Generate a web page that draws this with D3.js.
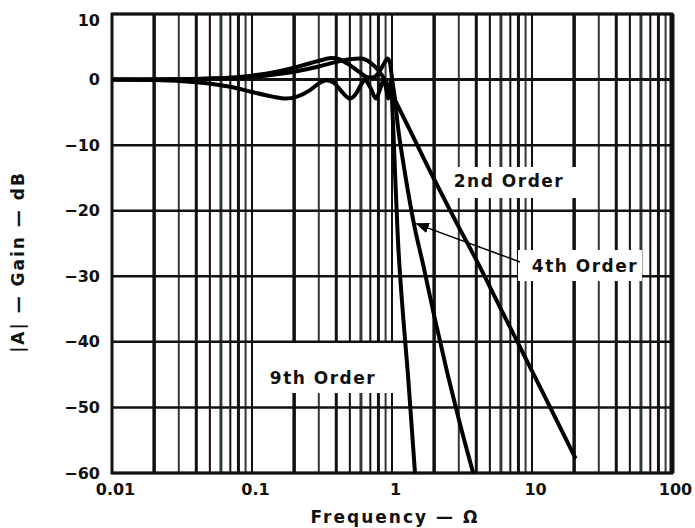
<!DOCTYPE html>
<html>
<head>
<meta charset="utf-8">
<script src="https://cdn.jsdelivr.net/npm/d3@7"></script>
<style>
    body { margin: 0; background: #fff; }
    svg text { font-family: "DejaVu Sans", "Liberation Sans", sans-serif; font-weight: bold; fill: #111; }
</style>
</head>
<body>
<svg id="chart" width="695" height="528"></svg>
<script>

/* Chebyshev-Tiefpass: Verstärkung über normierter Frequenz */

// Werte: [Frequenz, dB]
let order2 = [
    [0.01, 0], [0.03, 0.05], [0.06, 0.2], [0.1, 0.4], [0.15, 0.8], [0.2, 1.2],
    [0.3, 2.0], [0.4, 2.7], [0.5, 3.1], [0.6, 3.2], [0.7, 2.6], [0.8, 1.4],
    [0.9, -0.2], [1.0, -2.2], [1.2, -5.6], [1.5, -9.8], [2.0, -15.2], [2.4, -18.5],
    [3.0, -22.5], [4.0, -27.5], [6.0, -35.0], [9.0, -42.5], [13.0, -49.3], [20.5, -57.8]
];

let order4 = [
    [0.01, 0], [0.03, 0.05], [0.06, 0.2], [0.1, 0.6], [0.15, 1.2], [0.2, 1.8],
    [0.27, 2.6], [0.33, 3.1], [0.37, 3.3], [0.42, 3.1], [0.5, 2.2], [0.58, 1.2],
    [0.66, 0.4], [0.72, 0.3], [0.8, 1.0], [0.87, 2.3], [0.93, 3.2], [0.97, 2.4],
    [1.0, 0.2], [1.05, -3], [1.1, -7], [1.2, -12.5], [1.3, -17], [1.45, -22.5],
    [1.66, -28], [2.0, -36], [2.5, -45], [3.0, -51.8], [3.8, -60]
];

let order9 = [
    [0.01, 0], [0.02, -0.05], [0.04, -0.4], [0.07, -1.1], [0.1, -1.9], [0.14, -2.6],
    [0.175, -2.9], [0.21, -2.6], [0.26, -1.6], [0.3, -0.6], [0.34, -0.1], [0.39, -0.6],
    [0.44, -1.9], [0.5, -2.9], [0.56, -2.0], [0.6, -0.8], [0.64, -0.1], [0.7, -1.2],
    [0.77, -2.9], [0.82, -1.5], [0.87, -0.1], [0.91, -1.5], [0.94, -2.9], [0.965, -1.5],
    [0.985, -0.2], [1.0, -3], [1.05, -14], [1.1, -24], [1.2, -36], [1.3, -45], [1.46, -60]
];

let xTicks = [0.01, 0.1, 1, 10, 100];
let xTickLabels = ["0.01", "0.1", "1", "10", "100"];
let yTicks = [10, 0, -10, -20, -30, -40, -50, -60];

let svg = d3.select("#chart");
let mLeft = 112, mRight = 672, mTop = 14, mBottom = 473;

let xScale = d3.scaleLog()
    .domain([0.01, 100])
    .range([mLeft, mRight]);
let yScale = d3.scaleLinear()
    .domain([-60, 10])
    .range([mBottom, mTop]);

// Gitter vertikal (1..9 pro Dekade)
let gridX = [];
[0.01, 0.1, 1, 10].forEach(function (dec) {
    for (let k = 1; k < 10; k++) gridX.push({ v: dec * k, k: k });
});
let kWidth = [0, 2, 3.5, 2, 3, 2, 3, 2, 3, 2];

svg.append("g")
    .attr("class", "grid-x")
    .selectAll("line")
    .data(gridX)
    .enter()
    .append("line")
    .attr("x1", function (d) { return xScale(d.v); })
    .attr("x2", function (d) { return xScale(d.v); })
    .attr("y1", mTop)
    .attr("y2", mBottom)
    .attr("stroke", function (d) { return d.k % 3 == 0 ? "#2e3b3b" : "#111"; })
    .attr("stroke-width", function (d) { return kWidth[d.k]; });

// Gitter horizontal
svg.append("g")
    .attr("class", "grid-y")
    .selectAll("line")
    .data(yTicks)
    .enter()
    .append("line")
    .attr("x1", mLeft)
    .attr("x2", mRight)
    .attr("y1", function (d) { return yScale(d); })
    .attr("y2", function (d) { return yScale(d); })
    .attr("stroke", "#111")
    .attr("stroke-width", function (d) { return d == 0 ? 3 : 2.5; });

// Rahmen
svg.append("rect")
    .attr("x", mLeft)
    .attr("y", mTop)
    .attr("width", mRight - mLeft)
    .attr("height", mBottom - mTop)
    .attr("fill", "none")
    .attr("stroke", "#111")
    .attr("stroke-width", 3);
svg.append("line")
    .attr("x1", mRight).attr("x2", mRight)
    .attr("y1", mTop).attr("y2", mBottom)
    .attr("stroke", "#111")
    .attr("stroke-width", 5);

// Kurven
let line = d3.line()
    .x(function (d) { return xScale(d[0]); })
    .y(function (d) { return yScale(d[1]); })
    .curve(d3.curveMonotoneX);

[order2, order4, order9].forEach(function (series) {
    svg.append("path")
        .datum(series)
        .attr("fill", "none")
        .attr("stroke", "#000")
        .attr("stroke-width", 4)
        .attr("stroke-linejoin", "round")
        .attr("d", line);
});

// Beschriftungen mit weissem Hintergrund
function label(text, x, y, bx, by, bw, bh) {
    svg.append("rect")
        .attr("x", bx).attr("y", by)
        .attr("width", bw).attr("height", bh)
        .attr("fill", "#fff");
    svg.append("text")
        .attr("x", x).attr("y", y)
        .attr("text-anchor", "middle")
        .attr("font-size", 17)
        .attr("letter-spacing", 1.5)
        .text(text);
}
label("2nd Order", 509, 187, 447, 167, 138, 31);
label("4th Order", 585, 272, 518, 250, 124, 31);
label("9th Order", 323, 384, 254, 343, 141, 50);

// Pfeil zur 4th-Order-Kurve
svg.append("defs")
    .append("marker")
    .attr("id", "arrow")
    .attr("viewBox", "0 0 10 10")
    .attr("refX", 9).attr("refY", 5)
    .attr("markerWidth", 9).attr("markerHeight", 9)
    .attr("orient", "auto")
    .append("path")
    .attr("d", "M0,1 L10,5 L0,9 Z")
    .attr("fill", "#000");
svg.append("line")
    .attr("x1", 520).attr("y1", 262)
    .attr("x2", xScale(1.5)).attr("y2", yScale(-22))
    .attr("stroke", "#000")
    .attr("stroke-width", 1.5)
    .attr("marker-end", "url(#arrow)");

// Achsen
let xAxis = d3.axisBottom(xScale)
    .tickValues(xTicks)
    .tickSize(0)
    .tickPadding(10)
    .tickFormat(function (d, i) { return xTickLabels[i]; });
let gx = svg.append("g")
    .attr("transform", `translate(3, ${mBottom + 1})`)
    .call(xAxis);
gx.select(".domain").remove();
gx.selectAll("text")
    .attr("font-size", 16)
    .attr("font-family", "DejaVu Sans")
    .attr("font-weight", "bold")
    .attr("fill", "#111");

let yAxis = d3.axisLeft(yScale)
    .tickValues(yTicks)
    .tickSize(0)
    .tickPadding(12);
let gy = svg.append("g")
    .attr("transform", `translate(${mLeft}, 0)`)
    .call(yAxis);
gy.select(".domain").remove();
gy.selectAll("text")
    .attr("font-size", 16)
    .attr("font-family", "DejaVu Sans")
    .attr("font-weight", "bold")
    .attr("fill", "#111");
// oberstes Label sitzt im Original etwas tiefer
gy.selectAll(".tick")
    .filter(function (d) { return d == 10; })
    .select("text")
    .attr("y", 6);

svg.append("text")
    .attr("x", 395)
    .attr("y", 523)
    .attr("text-anchor", "middle")
    .attr("font-size", 17)
    .attr("letter-spacing", 2)
    .text("Frequency — Ω");

svg.append("text")
    .attr("transform", "translate(24, 262) rotate(-90)")
    .attr("text-anchor", "middle")
    .attr("font-size", 17)
    .attr("letter-spacing", 2)
    .text("|A| — Gain — dB");

</script>
</body>
</html>
